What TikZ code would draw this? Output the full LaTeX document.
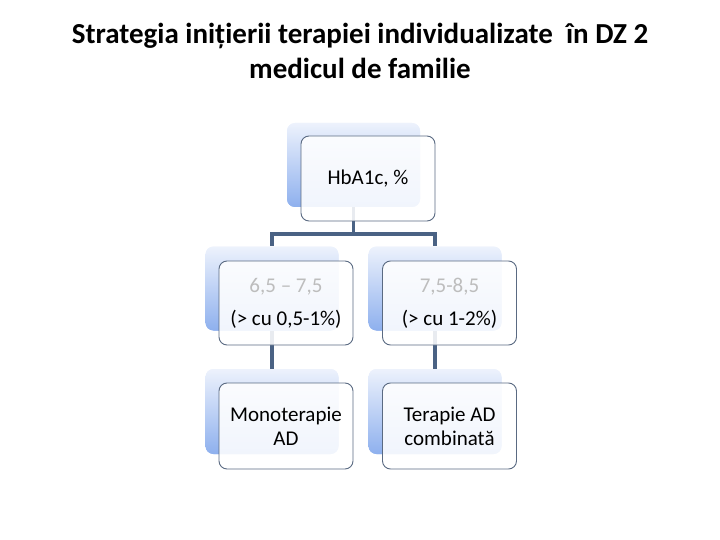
\documentclass[tikz,border=0pt]{standalone}
\usepackage{fontspec}
\setmainfont{Carlito}
\usetikzlibrary{calc}
\definecolor{linec}{HTML}{4A6284}
\definecolor{bordc}{HTML}{5A6A82}
\definecolor{backtop}{HTML}{EDF2FC}
\definecolor{backbot}{HTML}{8EB0EE}
\definecolor{graytxt}{HTML}{BDBDBD}
\tikzset{
  backbox/.style={rounded corners=8pt, minimum width=133pt, minimum height=84pt, inner sep=0pt,
    top color=backtop, bottom color=backbot, draw=none},
  frontbox/.style={rounded corners=8pt, minimum width=134pt, minimum height=85pt, inner sep=0pt,
    draw=bordc, line width=0.9pt, fill=white, fill opacity=0.88, text opacity=1, align=center},
  conn/.style={draw=linec, line width=3.2pt},
}
\begin{document}
\begin{tikzpicture}[x=1pt,y=-1pt]
\useasboundingbox (0,0) rectangle (720,540);
\node (title) at (360,51) [align=center, font=\fontsize{29}{35}\selectfont\bfseries] {Strategia inițierii terapiei individualizate\ \ în DZ 2\\medicul de familie};
% back boxes
\node[backbox] (topb) at (353.5,165) {};
\node[backbox] (mlb) at (272,288.5) {};
\node[backbox] (mrb) at (435,288.5) {};
\node[backbox, minimum height=85pt] (blb) at (272,411.5) {};
\node[backbox, minimum height=85pt] (brb) at (435,411.5) {};
% connectors
\coordinate (j) at (353.5,234);
\draw[conn] (topb.south) -- (j) -| (mlb.north);
\draw[conn] (j) -| (mrb.north);
\draw[conn] (mlb.south) -- (blb.north);
\draw[conn] (mrb.south) -- (brb.north);
% redraw back boxes on top of connector stubs
\node[backbox] at (353.5,165) {};
\node[backbox] at (272,288.5) {};
\node[backbox] at (435,288.5) {};
\node[backbox, minimum height=85pt] at (272,411.5) {};
\node[backbox, minimum height=85pt] at (435,411.5) {};
% front boxes
\node[frontbox, font=\fontsize{21}{24}\selectfont] (topf) at (368,178.5) {\raisebox{-7pt}{HbA1c, \%}};
\node[frontbox, minimum height=84pt, font=\fontsize{21}{33}\selectfont] (mlf) at (286,303) {{\color{graytxt}6,5 – 7,5}\\(> cu 0,5-1\%)};
\node[frontbox, minimum height=84pt, font=\fontsize{21}{33}\selectfont] (mrf) at (449.5,303) {{\color{graytxt}7,5-8,5}\\(> cu 1-2\%)};
\node[frontbox, minimum height=86pt, font=\fontsize{21}{24}\selectfont] (blf) at (286,426) {Monoterapie\\AD};
\node[frontbox, minimum height=86pt, font=\fontsize{21}{24}\selectfont] (brf) at (449.5,426) {Terapie AD\\combinată};
\end{tikzpicture}
\end{document}
